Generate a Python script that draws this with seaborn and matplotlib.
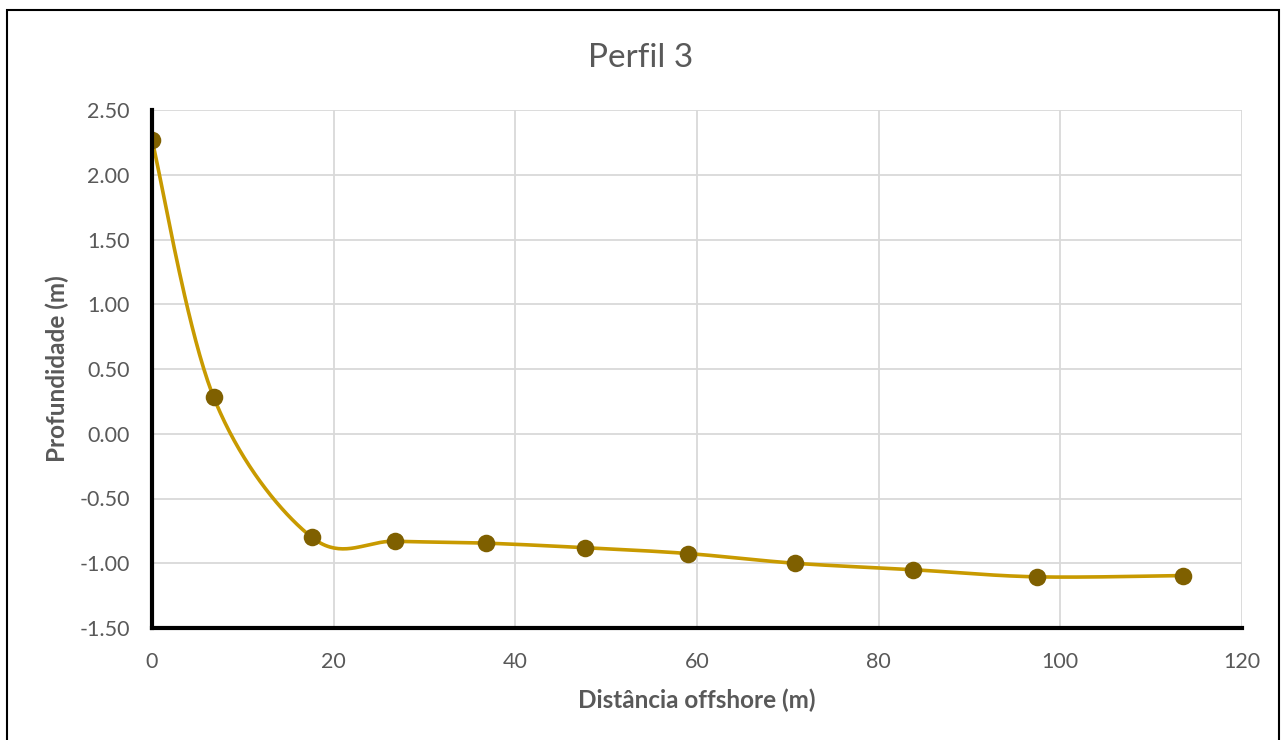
import numpy as np
import pandas as pd
import matplotlib
matplotlib.use("Agg")
import matplotlib.pyplot as plt
import seaborn as sns
from matplotlib.patches import Rectangle

# -----------------------------
# Data
# -----------------------------

distancia = [0.0, 6.8, 17.6, 26.8, 36.8, 47.7, 59.0, 70.8, 83.8, 97.4, 113.5]
profundidade = [2.27, 0.28, -0.80, -0.83, -0.845, -0.88, -0.925, -1.00, -1.05, -1.105, -1.095]

x_ticks = [0, 20, 40, 60, 80, 100, 120]
y_ticks = [2.50, 2.00, 1.50, 1.00, 0.50, 0.00, -0.50, -1.00, -1.50]

data = pd.DataFrame({"dist": distancia, "prof": profundidade})

# -----------------------------
# Excel-like smoothed line (Bezier through the points)
# -----------------------------

def smooth(xs, ys, n=40):
    p = np.column_stack([xs, ys])
    out = []
    for i in range(len(p) - 1):
        p0 = p[i - 1] if i > 0 else p[i]
        p1, p2 = p[i], p[i + 1]
        p3 = p[i + 2] if i + 2 < len(p) else p[i + 1]
        c1 = p1 + (p2 - p0) / 6
        c2 = p2 - (p3 - p1) / 6
        t = np.linspace(0, 1, n)[:, None]
        seg = (1 - t) ** 3 * p1 + 3 * (1 - t) ** 2 * t * c1 + 3 * (1 - t) * t ** 2 * c2 + t ** 3 * p2
        out.append(seg if i == 0 else seg[1:])
    seg = np.vstack(out)
    return pd.DataFrame({"dist": seg[:, 0], "prof": seg[:, 1]})

curve = smooth(distancia, profundidade)

# -----------------------------
# Plot
# -----------------------------

sns.set_theme(style="white")
plt.rcParams["font.family"] = ["Lato", "DejaVu Sans"]

grey = "#595959"
fig = plt.figure(figsize=(12.82, 7.40), dpi=100)
ax = fig.add_axes([152 / 1282, 1 - 628 / 740, 1090 / 1282, 518 / 740])

sns.lineplot(data=curve, x="dist", y="prof", ax=ax, color="#C89A00",
             linewidth=2.6, sort=False, zorder=3)
sns.scatterplot(data=data, x="dist", y="prof", ax=ax, color="#7F6000",
                s=160, edgecolor="#7F6000", linewidth=0, zorder=4)

ax.set_xlim(0, 120)
ax.set_ylim(-1.5, 2.5)
ax.set_xticks(x_ticks)
ax.set_yticks(y_ticks)
ax.set_yticklabels([f"{v:.2f}" for v in y_ticks])
ax.grid(True, color="#D9D9D9", linewidth=1.3)
ax.set_axisbelow(True)

for s in ["top", "right"]:
    ax.spines[s].set_visible(False)
ax.spines["left"].set_color("black")
ax.spines["bottom"].set_color("black")
ax.spines["left"].set_linewidth(3)
ax.spines["bottom"].set_linewidth(3)
ax.spines["left"].set_zorder(5)
ax.spines["bottom"].set_zorder(5)

ax.tick_params(axis="both", length=0, labelsize=15.5, labelcolor=grey)
ax.tick_params(axis="y", pad=16)
ax.tick_params(axis="x", pad=17)

ax.set_xlabel("Distância offshore (m)", fontsize=17.5, fontweight="bold",
              color=grey, labelpad=12)
ax.set_ylabel("Profundidade (m)", fontsize=17.5, fontweight="bold",
              color=grey, labelpad=7)

fig.text(0.5, 1 - 58 / 740, "Perfil 3", ha="center", va="center",
         fontsize=24, color=grey)

fig.patches.append(Rectangle((7 / 1282, -0.01), 1272 / 1282, 1 - 10 / 740 + 0.01,
                             transform=fig.transFigure, fill=False,
                             edgecolor="black", linewidth=1.5))

fig.savefig("out.png", dpi=100)
